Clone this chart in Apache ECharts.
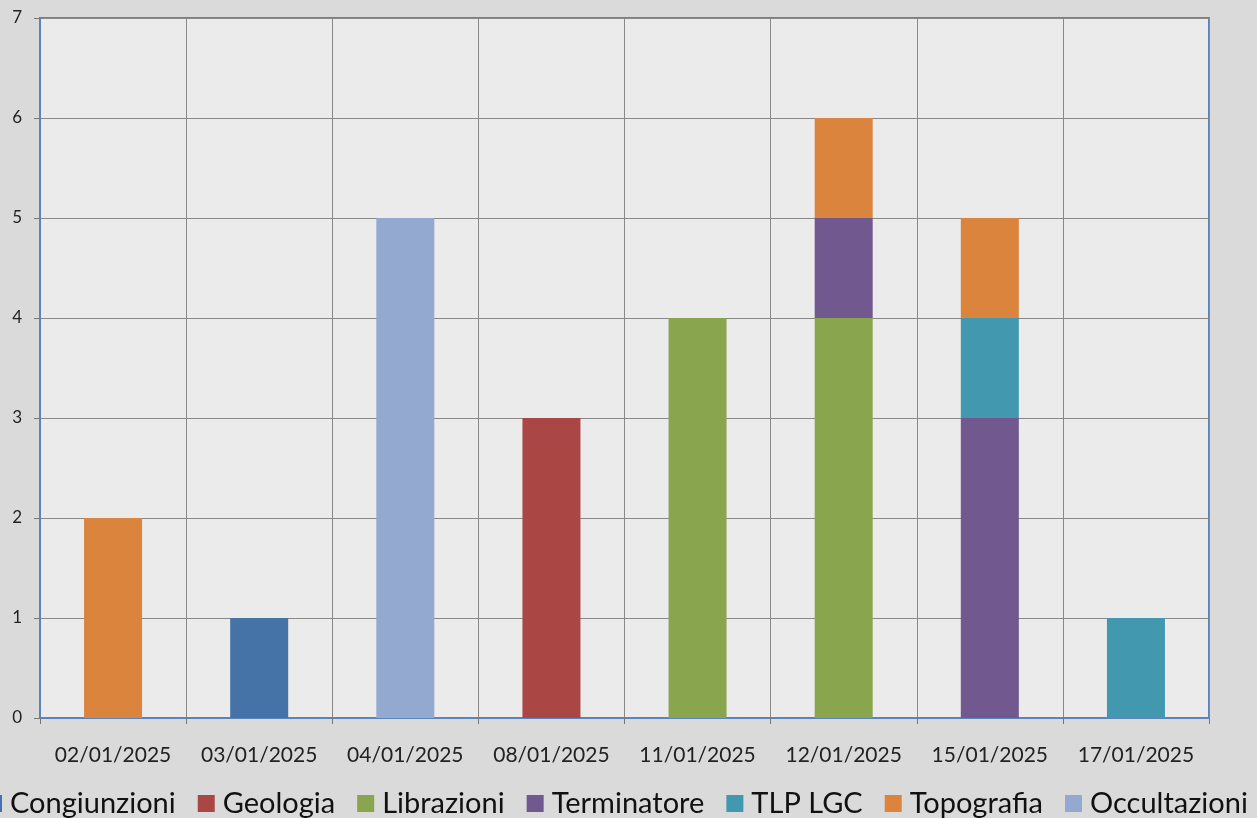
<!DOCTYPE html>
<html><head><meta charset="utf-8">
<script src="https://cdn.jsdelivr.net/npm/echarts@6/dist/echarts.min.js"></script>
<style>
html,body{margin:0;padding:0;}
body{width:1257px;height:818px;background-color:#dadada;}
#c{width:1257px;height:818px;}
</style></head>
<body><div id="c"></div>
<script>
const categories = ['02/01/2025','03/01/2025','04/01/2025','08/01/2025','11/01/2025','12/01/2025','15/01/2025','17/01/2025'];
const seriesNames = ['Congiunzioni','Geologia','Librazioni','Terminatore','TLP LGC','Topografia','Occultazioni'];
const congiunzioni = [0,1,0,0,0,0,0,0];
const geologia     = [0,0,0,3,0,0,0,0];
const librazioni   = [0,0,0,0,4,4,0,0];
const terminatore  = [0,0,0,0,0,1,3,0];
const tlpLgc       = [0,0,0,0,0,0,1,1];
const topografia   = [2,0,0,0,0,1,1,0];
const occultazioni = [0,0,5,0,0,0,0,0];
const yTicks = [0,1,2,3,4,5,6,7];
const colors = ['#4572A7','#AA4643','#89A54E','#71588F','#4198AF','#DB843D','#93A9CF'];

const values = [congiunzioni,geologia,librazioni,terminatore,tlpLgc,topografia,occultazioni];
const chart = echarts.init(document.getElementById('c'));
chart.setOption({
  backgroundColor: 'transparent',
  color: colors,
  animation: false,
  grid: {left:40, right:48, top:18, bottom:100, show:true, borderColor:'#5a84bb', borderWidth:2, backgroundColor:'rgba(255,255,255,0.45)'},
  legend: {
    bottom: 0, left: -15, width: 1400, padding: 0, itemWidth: 17, itemHeight: 17, itemGap: 22, icon: 'rect',
    textStyle: {fontFamily:'Lato', fontSize:29, color:'#111', padding:[0,0,0,3]},
    data: seriesNames
  },
  xAxis: {
    type:'category', data: categories,
    axisLine:{lineStyle:{color:'#5a84bb', width:2}},
    axisTick:{show:true, length:6, alignWithLabel:false, lineStyle:{color:'#777'}},
    axisLabel:{fontFamily:'Lato', fontSize:21, color:'#222', margin:27, interval:0},
    splitLine:{show:true, interval:0, lineStyle:{color:'#888', width:1}}
  },
  yAxis: {
    type:'value', min:0, max:7, interval:1,
    axisLine:{show:true, lineStyle:{color:'#5a84bb', width:2}},
    axisTick:{show:true, length:6, lineStyle:{color:'#777'}},
    axisLabel:{fontFamily:'Lato', fontSize:17, color:'#222', margin:18, formatter: v => yTicks.includes(v) ? String(v) : ''},
    splitLine:{show:true, lineStyle:{color:'#888', width:1}}
  },
  series: seriesNames.map((n,i)=>({
    name:n, type:'bar', stack:'total', barWidth:58,
    data: values[i].map(v => v === 0 ? null : v)
  }))
});
</script></body></html>
